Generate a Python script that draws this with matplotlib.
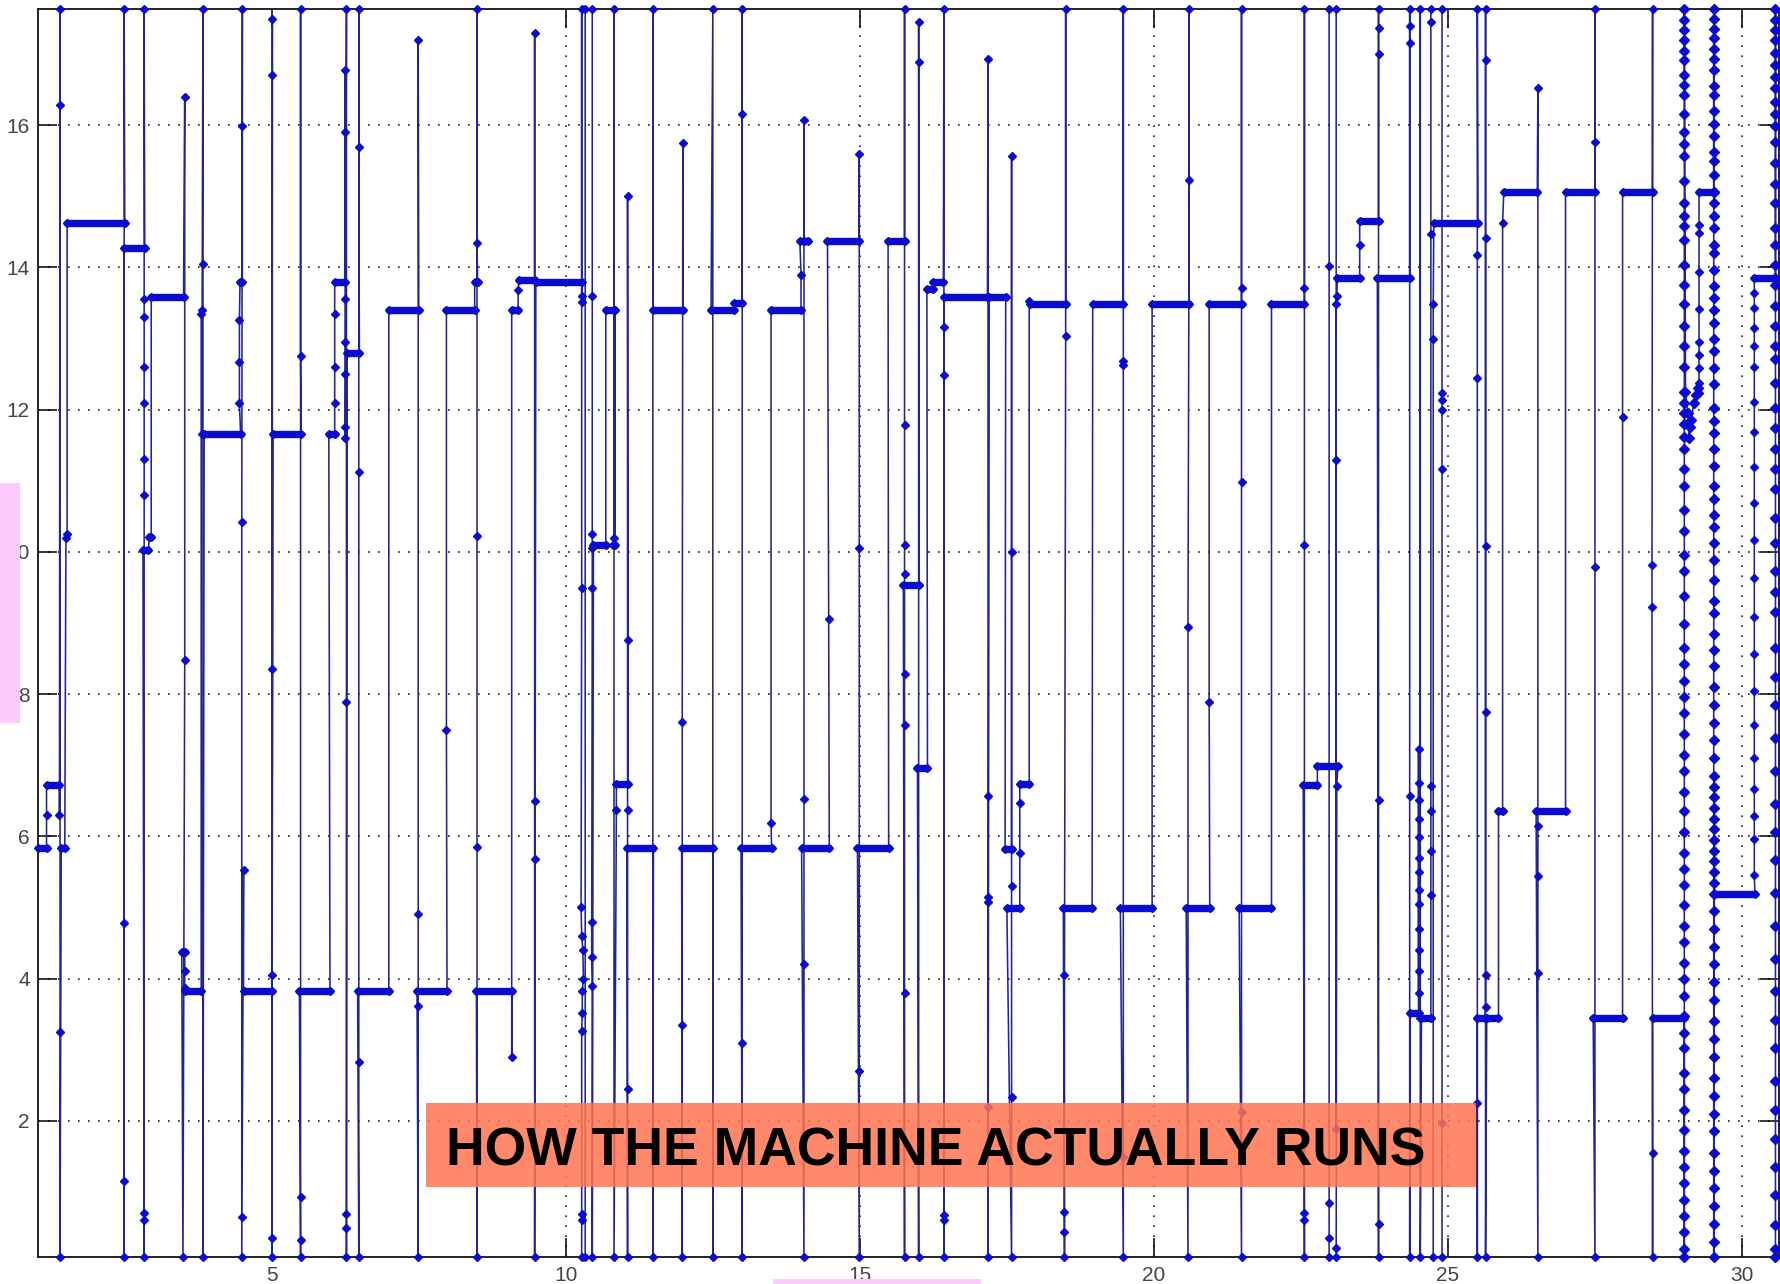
import numpy as np
import matplotlib
matplotlib.use("Agg")
import matplotlib.pyplot as plt
from matplotlib.patches import Rectangle
from matplotlib.collections import LineCollection

# axis limits (the trace is clipped to these, spikes sit on the spines)
B, T = 0.08, 17.63

# main trace, read left to right (one line per transition)
trace_x = [
    1.03, 1.17, 1.17, 1.17, 1.39, 1.39, 1.40, 1.40, 1.40, 1.40,
    1.42, 1.48, 1.50, 1.52, 1.52, 2.50,
    2.49, 2.49, 2.49, 2.49, 2.49, 2.84,
    2.83, 2.83, 2.83, 2.83, 2.83, 2.83, 2.83, 2.83, 2.83, 2.83, 2.81,
    2.90, 2.92, 2.95, 2.95, 3.50,
    3.52, 3.52, 3.49, 3.47, 3.52, 3.52, 3.52, 3.53, 3.80,
    3.80, 3.81, 3.81, 3.83, 3.83, 3.83, 3.85, 4.47,
    4.45, 4.45, 4.45, 4.46, 4.50, 4.50, 4.50, 4.49, 4.49, 4.49, 4.52, 4.52, 5.00,
    5.00, 5.01, 5.01, 5.01, 5.00, 5.00, 5.02, 5.50,
    5.49, 5.49, 5.49, 5.49, 5.49, 5.47, 5.99,
    5.97, 6.07, 6.07, 6.07, 6.07, 6.07, 6.24, 6.25, 6.25, 6.25, 6.25, 6.25, 6.25, 6.25,
    6.27, 6.27, 6.27, 6.27, 6.27, 6.28, 6.49,
    6.48, 6.48, 6.48, 6.48, 6.48, 6.46, 6.99,
    6.99, 7.50, 7.49, 7.49, 7.49, 7.49, 7.47, 7.98,
    7.97, 7.97, 8.45, 8.45, 8.50, 8.49, 8.49, 8.49, 8.49, 8.49, 8.48, 9.09,
    9.08, 9.08, 9.19, 9.19, 9.20, 9.47, 9.47, 9.47, 9.47, 9.47, 9.49, 10.28,
    10.27, 10.27, 10.27, 10.27, 10.26, 10.27, 10.29, 10.30, 10.28, 10.28, 10.27, 10.27, 10.27, 10.27,
    10.33, 10.33, 10.45, 10.45, 10.45, 10.45, 10.45, 10.44, 10.44, 10.45, 10.45,
    10.47, 10.68, 10.68, 10.84, 10.84, 10.80, 10.82, 10.82, 10.82,
    10.86, 10.86, 11.06, 11.05, 11.05, 11.05, 11.05, 11.05, 11.04, 11.49,
    11.48, 11.48, 11.48, 11.99, 11.99, 11.98, 11.98, 11.98, 11.97, 12.50,
    12.50, 12.50, 12.47, 12.86, 12.86, 13.00, 13.00, 13.00, 13.00, 13.00, 12.98, 13.50,
    13.49, 13.49, 14.00, 14.00, 13.98, 14.11, 14.05, 14.05, 14.05, 14.05, 14.05, 14.01, 14.48,
    14.47, 14.45, 14.99, 14.99, 14.99, 14.99, 14.99, 14.96, 15.49,
    15.48, 15.76, 15.76, 15.76, 15.76, 15.76, 15.76, 15.76, 15.76, 15.76, 15.74, 16.01,
    16.00, 16.00, 16.00, 15.98, 16.15, 16.14, 16.24, 16.24, 16.42,
    16.43, 16.43, 16.43, 16.43, 16.43, 16.43, 16.43, 17.17, 17.18, 17.18, 17.18, 17.18, 17.18, 17.18, 17.20, 17.48,
    17.47, 17.58, 17.58, 17.58, 17.58, 17.58, 17.58, 17.50, 17.72, 17.72, 17.72, 17.72, 17.88, 17.88, 17.89, 18.50,
    18.50, 18.50, 18.48, 18.48, 18.48, 18.48, 18.46, 18.95,
    18.96, 19.48, 19.48, 19.48, 19.48, 19.48, 19.48, 19.43, 19.97,
    19.97, 20.60, 20.60, 20.60, 20.58, 20.58, 20.55, 20.95,
    20.94, 20.94, 21.49, 21.49, 21.49, 21.49, 21.49, 21.49, 21.45, 22.00,
    22.00, 22.56, 22.56, 22.56, 22.56, 22.56, 22.56, 22.56, 22.54, 22.78, 22.78, 23.13, 23.11,
    23.10, 23.10, 22.98, 22.98, 22.98, 22.98, 22.98, 23.10, 23.10, 23.10, 23.10, 23.11, 23.12, 23.50,
    23.50, 23.50, 23.82, 23.82, 23.82, 23.82, 23.82, 23.82, 23.82, 23.80, 24.35,
    24.35, 24.35, 24.35, 24.35, 24.35, 24.36, 24.50,
    24.50, 24.50, 24.50, 24.50, 24.50, 24.50, 24.50, 24.50, 24.50, 24.50, 24.50, 24.50, 24.50,
    24.53, 24.53, 24.53, 24.55, 24.71, 24.71, 24.71, 24.71, 24.71, 24.71, 24.71, 24.71,
    24.90, 24.90, 24.90, 24.90, 24.90, 24.90, 24.90, 24.75, 24.75, 24.75, 24.76, 25.51,
    25.50, 25.50, 25.50, 25.50, 25.50, 25.50, 25.63, 25.64, 25.64, 25.64, 25.64, 25.64, 25.64, 25.64, 25.64, 25.66, 25.86,
    25.86, 25.93, 25.93, 25.95, 26.52, 26.53, 26.53, 26.53, 26.53, 26.53, 26.50, 27.00,
    27.00, 27.50, 27.50, 27.50, 27.50, 27.50, 27.47, 27.97,
    27.97, 27.97, 28.48, 28.48, 28.47, 28.47, 28.48, 28.48, 28.48, 29.02,
]
trace_y = [
    5.83, 5.83, 6.30, 6.72, 6.72, 6.30, T, 16.28, 3.25, B,
    5.83, 5.83, 10.20, 10.25, 14.62, 14.62,
    T, 4.78, 1.15, B, 14.27, 14.27,
    T, 13.55, 13.30, 12.60, 12.10, 11.30, 10.80, 0.70, 0.60, B, 10.03,
    10.03, 10.21, 10.21, 13.58, 13.58,
    16.40, 8.48, B, 4.37, 4.37, 4.10, 3.87, 3.83, 3.83,
    13.35, 13.40, 11.66, T, 14.05, B, 11.66, 11.66,
    12.09, 12.67, 13.26, 13.80, 13.80, 15.99, T, 10.42, 0.64, B, 5.52, 3.83, 3.83,
    4.05, 17.50, 16.71, 8.35, 0.35, B, 11.66, 11.66,
    12.76, T, 0.93, 0.33, B, 3.83, 3.83,
    11.66, 11.66, 12.09, 12.60, 13.34, 13.80, 13.80, 16.77, 15.90, 13.55, 12.95, 12.50, 11.75, 11.60,
    T, 7.89, 0.69, 0.49, B, 12.79, 12.79,
    15.69, T, 11.12, 2.82, B, 3.83, 3.83,
    13.40, 13.40, 17.20, 4.91, 3.61, B, 3.83, 3.83,
    7.49, 13.40, 13.40, 13.79, 13.79, 14.34, T, 10.22, 5.85, B, 3.83, 3.83,
    2.90, 13.40, 13.40, 13.68, 13.83, 13.83, 17.29, 6.50, 5.68, B, 13.79, 13.79,
    13.60, 13.52, T, 9.49, 5.00, 4.60, 4.40, 4.00, 3.83, 3.51, 3.26, 0.69, 0.60, B,
    B, T, T, 13.60, 10.25, 10.05, 9.49, 4.80, 4.30, 3.90, B,
    10.10, 10.10, 13.40, 13.40, 10.10, 10.10, 10.20, T, B,
    6.37, 6.73, 6.73, 15.00, 8.76, 6.37, 2.45, B, 5.83, 5.83,
    B, T, 13.40, 13.40, 15.75, 7.61, 3.35, B, 5.83, 5.83,
    B, T, 13.40, 13.40, 13.50, 13.50, 16.16, T, 3.10, B, 5.83, 5.83,
    6.19, 13.40, 13.40, 13.90, 14.37, 14.37, 14.37, 16.07, 6.53, 4.20, B, 5.83, 5.83,
    9.06, 14.37, 14.37, 15.59, 10.06, 2.70, B, 5.83, 5.83,
    14.37, 14.37, T, 11.78, 10.10, 9.69, 8.28, 7.56, 3.80, B, 9.53, 9.53,
    17.45, 16.89, B, 6.96, 6.96, 13.70, 13.70, 13.79, 13.79,
    T, 13.16, 12.49, 0.67, 0.60, B, 13.58, 13.58, 16.93, 6.57, 5.15, 5.07, 2.20, B, 13.58, 13.58,
    5.82, 5.82, 15.57, 10.00, 5.30, 2.34, B, 4.99, 4.99, 5.76, 6.47, 6.73, 6.73, 13.53, 13.48, 13.48,
    T, 13.03, 4.05, 0.72, 0.44, B, 4.99, 4.99,
    13.48, 13.48, T, 12.68, 12.63, 1.49, B, 4.99, 4.99,
    13.48, 13.48, T, 15.23, 8.94, B, 4.99, 4.99,
    7.89, 13.48, 13.48, T, 13.71, 10.98, 2.13, B, 4.99, 4.99,
    13.48, 13.48, T, 13.71, 10.10, 0.71, 0.61, B, 6.72, 6.72, 6.99, 6.99, 6.71,
    0.21, B, B, 0.35, 0.84, 14.02, T, T, 1.89, 11.29, 13.48, 13.60, 13.85, 13.85,
    14.31, 14.65, 14.65, T, 17.37, 17.00, 6.51, 0.55, B, 13.85, 13.85,
    T, 17.39, 17.16, 6.57, B, 3.52, 3.52,
    7.23, 6.75, 6.51, 6.25, 5.99, 5.70, 5.50, 5.24, 5.05, 4.70, 4.40, 4.10, 3.80,
    3.44, T, B, 3.44, 3.44, 5.17, 5.80, 6.36, 6.71, 14.47, 17.45, T,
    T, 12.24, 12.14, 12.00, 11.17, 1.97, B, B, 12.99, 13.48, 14.63, 14.63,
    T, 14.18, 12.45, 2.25, B, 3.44, 3.44, 3.60, 4.05, 7.75, 10.08, 14.42, 16.91, T, B, 3.44, 3.44,
    6.35, 6.35, 14.63, 15.06, 15.06, 16.52, 6.15, 5.44, 4.08, B, 6.35, 6.35,
    15.06, 15.06, T, 15.77, 9.79, B, 3.44, 3.44,
    11.90, 15.06, 15.06, T, 9.82, 9.23, 1.54, B, 3.44, 3.44,
]

# dense columns and short pieces at the right end
col1_x = 29.02
col1_y = [B, 0.20, 0.43, 0.66, 0.89, 1.12, 1.35, 1.58, 1.87, 2.15, 2.44, 2.67, 3.02, 3.24,
          3.47, 3.76, 3.99, 4.22, 4.51, 4.74, 5.03, 5.31, 5.54, 5.77, 6.06, 6.35, 6.63, 6.92,
          7.15, 7.44, 7.73, 7.96, 8.19, 8.42, 8.65, 8.98, 9.38, 9.73, 9.96, 10.30, 10.59,
          10.93, 11.16, 11.45, 11.62, 11.80, 11.95, 12.10, 12.25, 12.60, 12.89, 13.17, 13.49,
          13.75, 14.04, 14.38, 14.58, 14.73, 14.90, 15.21, 15.56, 15.73, 15.90, 16.16, 16.42,
          16.56, 16.71, 16.91, 17.05, 17.20, 17.34, 17.48, T]
cluster_x = [29.04, 29.08, 29.10, 29.12, 29.14, 29.18, 29.22, 29.25]
cluster_y = [12.25, 11.95, 11.60, 11.75, 11.85, 12.10, 12.20, 12.30]
rise1_x = 29.27
rise1_y = [12.24, 12.37, 12.59, 12.77, 12.95, 13.42, 13.93, 14.48, 14.60, 15.06]
col2_x = 29.52
col2_y = [15.06, T, 17.50, 17.36, 17.22, 17.07, 16.93, 16.78, 16.55, 16.43, 16.20, 16.02,
          15.85, 15.62, 15.50, 15.30, 15.06, 14.90, 14.72, 14.55, 14.32, 14.20, 13.97, 13.74,
          13.57, 13.40, 13.22, 12.99, 12.82, 12.59, 12.36, 12.02, 11.84, 11.67, 11.44, 11.21,
          10.92, 10.75, 10.52, 10.35, 10.12, 9.89, 9.60, 9.31, 9.14, 8.85, 8.62, 8.40, 8.10,
          7.85, 7.60, 7.35, 7.10, 6.85, 6.70, 6.55, 6.40, 6.25, 6.10, 5.95, 5.80, 5.65, 5.50,
          5.35, 5.19, 4.95, 4.70, 4.45, 4.20, 3.95, 3.70, 3.40, 3.15, 2.90, 2.60, 2.35, 2.10,
          1.85, 1.55, 1.30, 1.05, 0.80, 0.55, 0.30, B]
tail_x = [29.53, 30.22]
tail_y = [5.19, 5.19]
rise2_x = 30.21
rise2_y = [5.46, 5.96, 6.29, 6.66, 7.10, 7.56, 8.05, 8.56, 9.09, 9.63, 10.17, 10.69, 11.19,
           11.68, 12.11, 12.60, 12.89, 13.15, 13.43, 13.64, 13.85]
col3_x = 30.57
col3_y = [13.85, T, 17.48, 17.34, 17.20, 17.02, 16.85, 16.68, 16.53, 16.33, 16.16, 15.99,
          15.76, 15.47, 15.18, 14.90, 14.55, 14.32, 14.04, 13.75, 13.46, 13.17, 12.89, 12.71,
          12.37, 12.03, 11.74, 11.45, 11.16, 10.88, 10.47, 10.13, 9.73, 9.44, 9.15, 8.65, 8.24,
          7.84, 7.38, 6.92, 6.46, 6.06, 5.66, 5.20, 4.74, 4.28, 3.82, 3.42, 3.02, 2.56, 2.15,
          1.75, 1.35, 0.95, 0.54, 0.20, B]

xticks = [5, 10, 15, 20, 25, 30]
yticks = [2, 4, 6, 8, 10, 12, 14, 16]
banner = "HOW THE MACHINE ACTUALLY RUNS"

assert len(trace_x) == len(trace_y)

cols_x = np.concatenate([np.full(len(col1_y), col1_x), cluster_x, np.full(len(col2_y), col2_x),
                         np.full(len(col3_y), col3_x)])
cols_y = np.concatenate([col1_y, cluster_y, col2_y, col3_y])

xs = np.concatenate([trace_x, np.full(len(col1_y), col1_x), cluster_x,
                     np.full(len(rise1_y), rise1_x), np.full(len(col2_y), col2_x),
                     tail_x, np.full(len(rise2_y), rise2_x), np.full(len(col3_y), col3_x)])
ys = np.concatenate([trace_y, col1_y, cluster_y, rise1_y, col2_y, tail_y, rise2_y, col3_y])

LINE = "#24248e"
MARK = "#0b0bd0"

W, H = 1781, 1284
fig = plt.figure(figsize=(W / 100, H / 100), dpi=100)
ax = fig.add_axes([38.3 / W, 1 - 1257.3 / H, (1779 - 38.3) / W, (1257.3 - 9.3) / H])
ax.set_xlim(1.03, 30.63)
ax.set_ylim(B, T)

ax.set_axisbelow(True)
ax.grid(True, linestyle=(0, (1, 5)), color="#222222", linewidth=1.2)

ax.plot(xs, ys, "-", color=LINE, lw=1.15, zorder=2, clip_on=False)
ax.plot(xs, ys, "D", ms=3.6, color=MARK, mec=MARK, zorder=3, clip_on=False)
ax.plot(cols_x, cols_y, "D", ms=4.6, color=MARK, mec=MARK, zorder=3, clip_on=False)

# plateaus: consecutive samples at the same level are drawn as the thick runs
segs = [[(xs[i], ys[i]), (xs[i + 1], ys[i + 1])] for i in range(len(xs) - 1)
        if ys[i] == ys[i + 1] and B < ys[i] < T and abs(xs[i + 1] - xs[i]) > 0.02]
ax.add_collection(LineCollection(segs, colors=MARK, linewidths=5.3, capstyle="round", zorder=3))

ax.set_xticks(xticks)
ax.set_yticks(yticks)
ax.tick_params(direction="in", length=13.7, width=1.1, top=True, right=True,
               labelsize=15, labelcolor="#454545", pad=6)
for lab in ax.get_xticklabels() + ax.get_yticklabels():
    lab.set_family("Liberation Sans")
for s in ax.spines.values():
    s.set_linewidth(1.3)
    s.set_color("#111111")

# overlays on top of the plot
fig.add_artist(Rectangle((0, 1 - 722.7 / H), 20.4 / W, 240 / H, transform=fig.transFigure,
                         facecolor="#fccafc", edgecolor="none", zorder=5))
fig.add_artist(Rectangle((773 / W, 0), 208 / W, 5.5 / H, transform=fig.transFigure,
                         facecolor="#fccafc", edgecolor="none", zorder=5))
fig.add_artist(Rectangle((426 / W, 1 - 1187 / H), 1050 / W, 84 / H, transform=fig.transFigure,
                         facecolor="#ff7550", alpha=0.85, edgecolor="none", zorder=5))
fig.text(446 / W, 1 - 1165 / H, banner, fontsize=38.5, fontweight="bold",
         family="Liberation Sans", color="black", ha="left", va="baseline", zorder=6)

fig.savefig("out.png", dpi=100)
